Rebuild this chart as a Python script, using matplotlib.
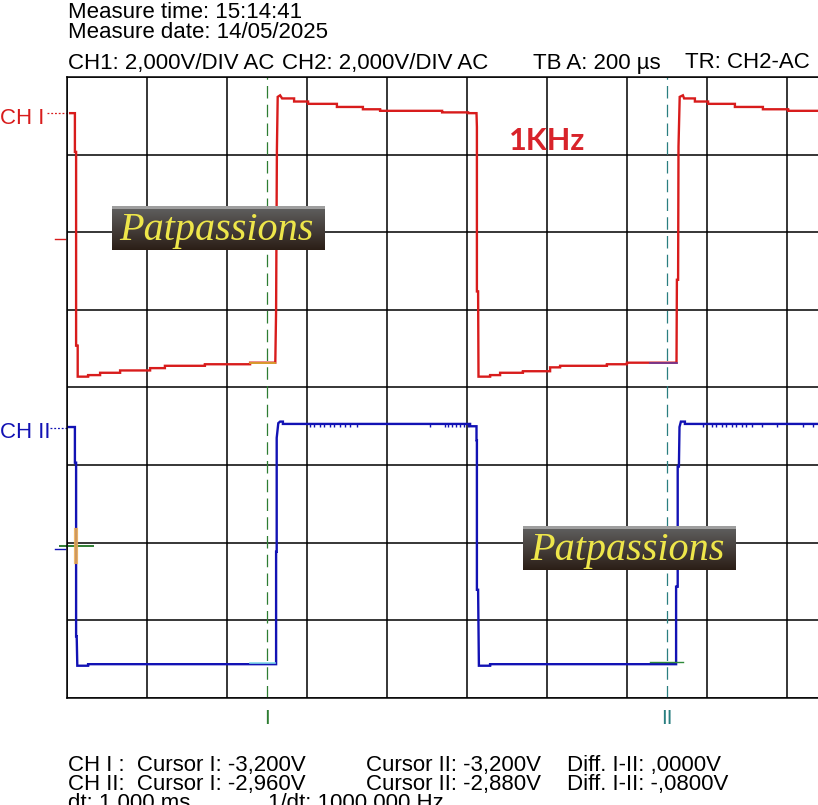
import numpy as np
import matplotlib
matplotlib.use("Agg")
import matplotlib.pyplot as plt

# time in microseconds, level in screen divisions (0 = bottom of grid)
ch1_t = [7, 19, 19, 22, 22, 26, 26,
         52, 52, 82, 82, 132, 132, 207, 207, 244, 244, 344, 344, 457, 457, 520,
         522, 524, 526, 532, 537,
         567, 567, 602, 602, 674, 674, 739, 739, 782, 782, 937, 937, 1002, 1002, 1023,
         1024, 1024, 1027, 1028,
         1057, 1057, 1082, 1082, 1139, 1139, 1207, 1207, 1232, 1232, 1349, 1349, 1399, 1399, 1523,
         1524, 1527, 1528, 1531, 1539,
         1542, 1569, 1569, 1602, 1602, 1669, 1669, 1739, 1739, 1802, 1802, 1910]
ch1_v = [7.54, 7.54, 7.04, 7.04, 4.54, 4.54, 4.14,
         4.14, 4.16, 4.16, 4.19, 4.19, 4.22, 4.22, 4.25, 4.25, 4.28, 4.28, 4.30, 4.30, 4.32, 4.32,
         5.00, 7.07, 7.75, 7.77, 7.73,
         7.73, 7.69, 7.69, 7.66, 7.66, 7.62, 7.62, 7.59, 7.59, 7.57, 7.57, 7.55, 7.55, 7.54, 7.54,
         7.36, 5.24, 5.24, 4.14,
         4.14, 4.16, 4.16, 4.19, 4.19, 4.21, 4.21, 4.26, 4.26, 4.28, 4.28, 4.30, 4.30, 4.32, 4.32,
         5.39, 5.39, 7.11, 7.75, 7.77,
         7.73, 7.73, 7.69, 7.69, 7.66, 7.66, 7.62, 7.62, 7.59, 7.59, 7.57, 7.57]

ch2_t = [2, 19, 19, 22, 22, 23.5, 25,
         52, 52, 522,
         522, 523.5, 523.5, 527.5, 532, 539, 539,
         1007, 1007, 1023,
         1023, 1024, 1024, 1027, 1029,
         1057, 1057, 1522,
         1522, 1526, 1526, 1529, 1530.5, 1534, 1544, 1544, 1910]
ch2_v = [3.49, 3.49, 3.03, 3.03, 0.79, 0.79, 0.41,
         0.41, 0.43, 0.43,
         1.88, 1.88, 3.35, 3.54, 3.56, 3.56, 3.53,
         3.53, 3.50, 3.50,
         3.32, 3.32, 1.39, 1.39, 0.41,
         0.41, 0.43, 0.43,
         1.43, 1.43, 2.98, 2.98, 3.49, 3.56, 3.56, 3.53, 3.53]

# small noise ticks on the CH2 high level
ch2_glitch_t = [607, 617, 632, 642, 657, 667, 682, 695, 707, 724, 907, 944, 952, 962, 972, 982, 992, 1002,
                1589, 1612, 1622, 1637, 1647, 1662, 1672, 1687, 1697, 1712, 1737, 1774, 1839, 1864]

cursor_t = [500, 1500]
cursor_names = ["I", "II"]
cursor_colors = ["#2e7d32", "#2a7f80"]

header = ["Measure time: 15:14:41", "Measure date: 14/05/2025"]
settings = ["CH1: 2,000V/DIV AC", "CH2: 2,000V/DIV AC", "TB A: 200 µs", "TR: CH2-AC"]
settings_x = [68, 282, 533, 685]
footer = [["CH I :  Cursor I: -3,200V", "Cursor II: -3,200V", "Diff. I-II: ,0000V"],
          ["CH II:  Cursor I: -2,960V", "Cursor II: -2,880V", "Diff. I-II: -,0800V"]]
footer_x = [68, 366, 567]
footer_last = ["dt: 1,000 ms", "1/dt: 1000,000 Hz"]
footer_last_x = [68, 268]

RED = "#d81c1c"
BLUE = "#1212b4"
W, H = 818, 805

plt.rcParams['font.family'] = ['Liberation Sans', 'DejaVu Sans']
fig = plt.figure(figsize=(W / 100, H / 100), dpi=100)

# grid area: 10 x 8 divisions, 80 x 77.5 px each, right part falls off the picture
x0 = 67.3
ax = fig.add_axes([x0 / W, (H - 697.5) / H, 800 / W, 620 / H])
ax.set_xlim(0, 2000)
ax.set_ylim(0, 8)
ax.set_xticks(np.arange(0, 2001, 200))
ax.set_yticks(np.arange(0, 9, 1))
ax.tick_params(length=0, labelbottom=False, labelleft=False)
ax.grid(True, color="black", lw=1.1)
for s in ax.spines.values():
    s.set_linewidth(1.1)

ax.plot(ch1_t, ch1_v, color=RED, lw=1.7, solid_joinstyle="miter")
ax.plot(ch2_t, ch2_v, color=BLUE, lw=1.7, solid_joinstyle="miter")
ax.vlines(ch2_glitch_t, 3.49, 3.53, color=BLUE, lw=1.0)

# cursor level marks at the end of the low levels
ax.plot([457, 520], [4.32, 4.32], color="#d8b030", lw=1.2)
ax.plot([1457, 1523], [4.32, 4.32], color="#6a3a9a", lw=1.2)
ax.plot([457, 520], [0.44, 0.44], color="#80d8e8", lw=1.2)
ax.plot([1457, 1540], [0.46, 0.46], color="#2e8a3a", lw=1.0)

for t, c in zip(cursor_t, cursor_colors):
    ax.axvline(t, color=c, lw=0.9, dashes=(10, 5))

# reference / trigger markers left of the grid
ax.plot([-51, 0], [7.54, 7.54], color=RED, lw=0.9, ls=(0, (1.5, 1.5)), clip_on=False)
ax.plot([-43, 0], [3.48, 3.48], color=BLUE, lw=0.9, ls=(0, (1.5, 1.5)), clip_on=False)
ax.plot([-31, -6], [5.91, 5.91], color=RED, lw=1.0, clip_on=False)
ax.plot([-31, -6], [1.92, 1.92], color=BLUE, lw=1.0, clip_on=False)
ax.plot([-18, 64], [1.96, 1.96], color="#2e7d32", lw=1.4, clip_on=False)
ax.plot([21, 21], [1.75, 2.16], color="#f0b050", lw=3.0, alpha=0.85, clip_on=False)

# overlay in pixel coordinates for texts and logos
ov = fig.add_axes([0, 0, 1, 1], zorder=5)
ov.patch.set_alpha(0)
ov.axis("off")

txt = dict(fontsize=16, color="black", va="baseline", ha="left")
ov.text(68, 18.5, header[0], **txt)
ov.text(68, 38.5, header[1], **txt)
for s, x in zip(settings, settings_x):
    ov.text(x, 68.5, s, **txt)
for row, yb in zip(footer, [771, 790]):
    for s, x in zip(row, footer_x):
        ov.text(x, yb, s, **txt)
for s, x in zip(footer_last, footer_last_x):
    ov.text(x, 809, s, **txt)

ov.text(0, 123.5, "CH I", fontsize=16, color=RED, va="baseline")
ov.text(0, 438, "CH II", fontsize=16, color=BLUE, va="baseline")

for t, name, c in zip(cursor_t, cursor_names, cursor_colors):
    ov.text(x0 + t * 0.4, 718, name, fontsize=15, color=c, ha="center", va="center")

ov.text(509, 141, "1KHz", fontsize=22, fontweight="bold", color="#d8232a",
        family=["Lato", "DejaVu Sans"], va="center", ha="left")

# watermark boxes
rows = np.linspace(0, 1, 44)
grad = np.zeros((44, 4, 3))
top = np.array([0.38, 0.38, 0.38])
bot = np.array([0.17, 0.12, 0.09])
for i, r in enumerate(rows):
    grad[i, :, :] = top * (1 - r) + bot * r
grad[:3, :, :] = 0.62
for (bx, by) in [(112, 206), (523, 526)]:
    ov.imshow(grad, extent=[bx, bx + 213, by + 44, by], aspect="auto", zorder=6)
    ov.text(bx + 7, by + 24, "Patpassions", fontsize=29, style="italic",
            family=["Liberation Serif", "DejaVu Serif"], color="#eee64a",
            va="center", ha="left", zorder=7)

ov.set_xlim(0, W)
ov.set_ylim(H, 0)

fig.savefig("out.png", dpi=100, facecolor="white")
